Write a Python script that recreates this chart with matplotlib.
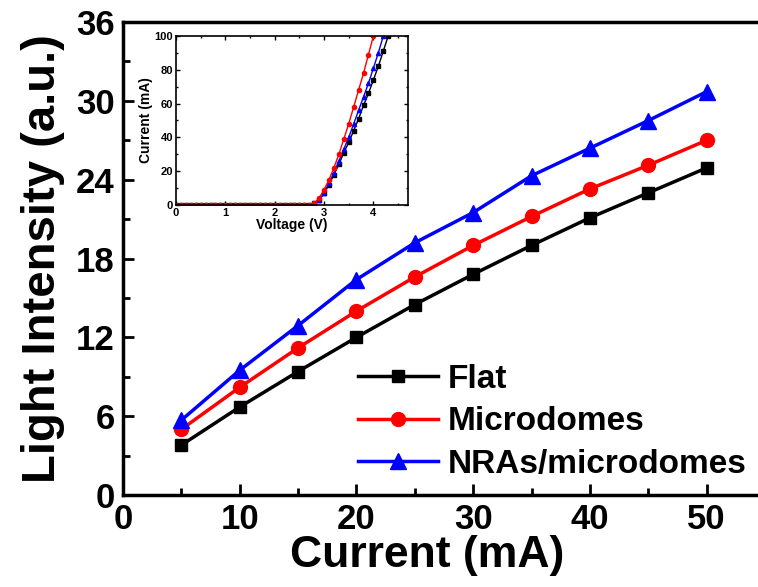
import matplotlib
matplotlib.use("Agg")
import matplotlib.pyplot as plt
from matplotlib.ticker import MultipleLocator

# Main chart data
current = [5, 10, 15, 20, 25, 30, 35, 40, 45, 50]
flat = [3.8, 6.7, 9.4, 12.0, 14.5, 16.8, 19.0, 21.1, 23.0, 24.9]
microdomes = [5.0, 8.2, 11.2, 14.0, 16.6, 19.0, 21.2, 23.3, 25.1, 27.0]
nras = [5.7, 9.5, 12.9, 16.4, 19.2, 21.5, 24.3, 26.4, 28.5, 30.7]
labels = ["Flat", "Microdomes", "NRAs/microdomes"]

# Inset I-V data
voltage = [0.0, 0.1, 0.2, 0.3, 0.4, 0.5, 0.6, 0.7, 0.8, 0.9, 1.0, 1.1, 1.2, 1.3,
           1.4, 1.5, 1.6, 1.7, 1.8, 1.9, 2.0, 2.1, 2.2, 2.3, 2.4, 2.5, 2.6, 2.7,
           2.8, 2.9, 3.0, 3.1, 3.2, 3.3, 3.4, 3.5, 3.6, 3.7, 3.8, 3.9, 4.0, 4.1,
           4.2, 4.3]
iv_flat = [0] * 28 + [1, 3, 7, 12, 18, 24, 31, 37, 44, 51, 59, 66, 74, 82, 91, 100]
iv_blue = [0] * 28 + [1, 3, 7, 13, 19, 26, 33, 40, 48, 56, 64, 72, 81, 90, 100, 110]
iv_red = [0] * 28 + [1, 4, 9, 15, 22, 30, 39, 48, 58, 68, 78, 89, 100, 111, 122, 133]

fig = plt.figure(figsize=(7.58, 5.87), dpi=100)
ax = fig.add_axes([0.1623, 0.1567, 0.847, 0.8058])

bold = dict(family=["Liberation Sans", "DejaVu Sans"], weight="bold")
narrow = dict(family=["Liberation Sans Narrow", "Liberation Sans", "DejaVu Sans"], weight="bold")

ax.plot(current, flat, "-s", color="black", lw=2.5, ms=9, label=labels[0])
ax.plot(current, microdomes, "-o", color="red", lw=2.5, ms=10, label=labels[1])
ax.plot(current, nras, "-^", color="blue", lw=2.5, ms=11, label=labels[2])

ax.set_xlim(0, 55)
ax.set_ylim(0, 36)
ax.xaxis.set_major_locator(MultipleLocator(10))
ax.xaxis.set_minor_locator(MultipleLocator(5))
ax.yaxis.set_major_locator(MultipleLocator(6))
ax.yaxis.set_minor_locator(MultipleLocator(3))
ax.tick_params(which="both", direction="in", width=2, top=False, right=False)
ax.tick_params(which="major", length=8, pad=6)
ax.tick_params(which="minor", length=5)
for s in ax.spines.values():
    s.set_linewidth(2.5)
for lab in ax.get_xticklabels() + ax.get_yticklabels():
    lab.set_fontproperties(matplotlib.font_manager.FontProperties(**narrow, size=25))

ax.set_xlabel("Current (mA)", fontsize=32, labelpad=0, **bold)
ax.xaxis.set_label_coords(0.474, -0.085)
ax.set_ylabel("Light Intensity (a.u.)", fontsize=34, labelpad=8, **bold)

leg = ax.legend(loc="upper left", bbox_to_anchor=(358 / 758, 1 - 364 / 587),
                bbox_transform=fig.transFigure, frameon=False, borderpad=0,
                borderaxespad=0, handlelength=2.4, handletextpad=0.3,
                labelspacing=0.34,
                prop=matplotlib.font_manager.FontProperties(**bold, size=24))

# Inset
ins = fig.add_axes([0.2322, 0.6508, 0.306, 0.288])
ins.plot(voltage, iv_flat, "-s", color="black", lw=1.0, ms=3)
ins.plot(voltage, iv_blue, "-^", color="blue", lw=1.0, ms=3)
ins.plot(voltage, iv_red, "-o", color="red", lw=1.0, ms=3)
ins.set_xlim(0, 4.7)
ins.set_ylim(0, 100)
ins.xaxis.set_major_locator(MultipleLocator(1))
ins.xaxis.set_minor_locator(MultipleLocator(0.5))
ins.yaxis.set_major_locator(MultipleLocator(20))
ins.yaxis.set_minor_locator(MultipleLocator(10))
ins.tick_params(which="both", direction="in", width=1, top=True, right=True, pad=2)
ins.tick_params(which="major", length=3)
ins.tick_params(which="minor", length=1.5)
for s in ins.spines.values():
    s.set_linewidth(1.2)
for lab in ins.get_xticklabels() + ins.get_yticklabels():
    lab.set_fontproperties(matplotlib.font_manager.FontProperties(**bold, size=8))
ins.set_xlabel("Voltage (V)", fontsize=10, labelpad=0, **bold)
ins.set_ylabel("Current (mA)", fontsize=10, labelpad=1, **bold)

fig.savefig("out.png", dpi=100)
